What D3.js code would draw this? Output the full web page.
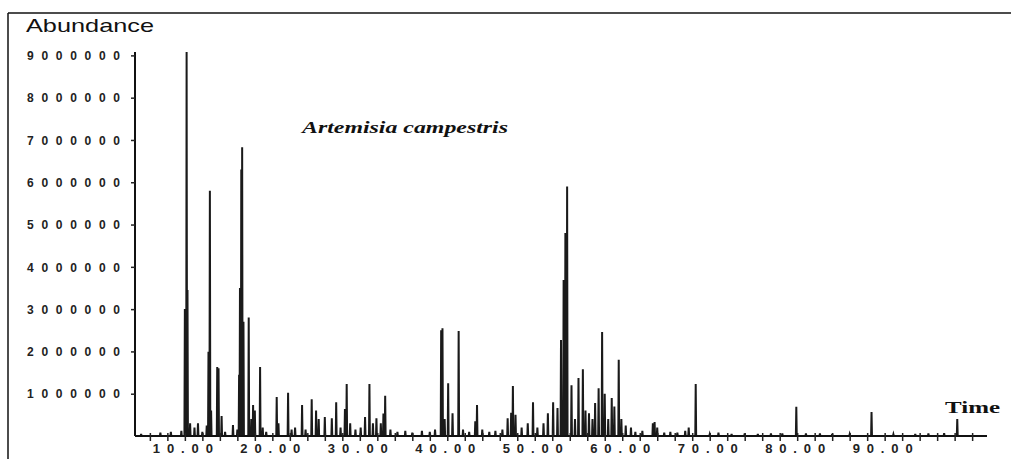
<!DOCTYPE html>
<html lang="en">
<head>
<meta charset="UTF-8">
<script src="https://d3js.org/d3.v7.min.js"></script>
<style>
    body { margin: 0; background: white; }
    svg { display: block; }
</style>
</head>
<body>
<div id="chart"></div>
<script>
    // retention times (min) and abundances
    var peakTimes = [5.0, 7.2, 8.4, 9.6, 10.0, 10.2, 10.3, 10.6, 11.1, 11.5, 12.0,
        12.5, 12.7, 12.86, 13.0, 13.7, 13.85, 14.2, 14.6, 15.5, 16.0, 16.2, 16.3, 16.45, 16.55, 16.7,
        17.3, 17.6, 17.8, 18.0, 18.6, 18.9, 19.3, 20.5, 20.7, 21.8, 22.2, 22.6, 23.4, 23.8,
        24.5, 25.0, 25.3, 26.0, 26.8, 27.3, 27.8, 28.3, 28.5, 28.9, 29.5, 30.1, 30.6, 31.1,
        31.5, 31.9, 32.4, 32.7, 32.9, 33.5, 34.3, 35.2, 36.0, 37.1, 38.0, 38.6, 39.3, 39.45,
        39.7, 40.1, 40.6, 41.3, 41.8, 42.5, 43.2, 43.4, 44.0, 44.8, 45.5, 46.3, 46.9, 47.3,
        47.5, 47.8, 48.5, 49.2, 49.8, 50.3, 51.0, 51.5, 52.1, 52.6, 53.0, 53.3, 53.5, 53.7,
        54.2, 54.6, 55.0, 55.5, 55.8, 56.2, 56.6, 56.9, 57.3, 57.7, 58.0, 58.4, 58.8, 59.1,
        59.6, 59.9, 60.4, 61.0, 61.5, 62.3, 63.5, 63.7, 64.0, 64.8, 65.5, 66.3, 67.2, 67.6,
        68.4, 70.0, 71.0, 72.5, 74.0, 75.5, 77.0, 78.3, 79.9, 81.0, 82.6, 84.0, 86.0, 88.5,
        91.0, 93.5, 95.0, 96.8, 98.3];
    var peakHeights = [50000, 80000, 100000, 120000, 3000000, 9080000, 3450000, 300000, 200000, 300000, 100000,
        250000, 1990000, 5800000, 600000, 1630000, 1600000, 470000, 100000, 260000, 150000, 1450000, 3500000, 6300000, 6830000, 2700000,
        2800000, 400000, 730000, 600000, 1630000, 200000, 100000, 920000, 300000, 1020000, 150000, 200000, 730000, 150000,
        870000, 600000, 400000, 450000, 420000, 800000, 200000, 640000, 1230000, 300000, 150000, 200000, 450000, 1230000,
        300000, 420000, 300000, 530000, 950000, 150000, 100000, 120000, 80000, 120000, 100000, 150000, 2500000, 2550000,
        400000, 1250000, 540000, 2480000, 150000, 100000, 350000, 730000, 150000, 100000, 120000, 150000, 420000, 550000,
        1180000, 500000, 200000, 300000, 800000, 200000, 300000, 540000, 800000, 660000, 2270000, 3690000, 4800000, 5900000,
        1200000, 400000, 1370000, 1580000, 600000, 540000, 400000, 780000, 1130000, 2460000, 1000000, 400000, 900000, 700000,
        1800000, 400000, 250000, 200000, 100000, 120000, 300000, 330000, 200000, 80000, 100000, 80000, 120000, 200000,
        1230000, 40000, 80000, 50000, 60000, 50000, 60000, 60000, 690000, 60000, 60000, 50000, 40000, 570000,
        40000, 50000, 60000, 70000, 400000];
    var yTickValues = [1000000, 2000000, 3000000, 4000000, 5000000, 6000000, 7000000, 8000000, 9000000];
    var xLabelValues = [10, 20, 30, 40, 50, 60, 70, 80, 90];
    var xMinorTicks = d3.range(6, 101, 2);

    var canvasWidth = 1012;
    var canvasHeight = 459;

    var svg = d3.select("#chart").append("svg")
        .attr("width", canvasWidth)
        .attr("height", canvasHeight);

    var xScale = d3.scaleLinear().domain([4.3, 101.7]).range([135, 987]);
    var yScale = d3.scaleLinear().domain([0, 9080000]).range([436, 52]);

    // frame (top and left edges only)
    svg.append("line").attr("x1", 8).attr("x2", 1011).attr("y1", 13).attr("y2", 13)
        .attr("stroke", "#111").attr("stroke-width", 1.5);
    svg.append("line").attr("x1", 8).attr("x2", 8).attr("y1", 13).attr("y2", 459)
        .attr("stroke", "#111").attr("stroke-width", 1.5);

    // chromatogram trace
    var pts = [];
    var order = d3.range(peakTimes.length).sort(function(a, b) { return peakTimes[a] - peakTimes[b]; });
    pts.push([4.3, 0]);
    order.forEach(function(i) {
        pts.push([peakTimes[i] - 0.05, 0]);
        pts.push([peakTimes[i], peakHeights[i]]);
        pts.push([peakTimes[i] + 0.05, 0]);
    });
    pts.push([101.7, 0]);

    var line = d3.line()
        .x(function(d) { return xScale(d[0]); })
        .y(function(d) { return yScale(d[1]); });

    svg.append("path")
        .datum(pts)
        .attr("d", line)
        .attr("fill", "none")
        .attr("stroke", "#1a1a1a")
        .attr("stroke-width", 2)
        .attr("stroke-linejoin", "miter");

    // y axis
    var yAxis = svg.append("g").attr("transform", "translate(135,0)")
        .call(d3.axisLeft(yScale).tickValues(yTickValues).tickSize(4).tickFormat(function(d) { return ""; }));
    yAxis.select(".domain").attr("stroke-width", 2).attr("stroke", "#111").attr("d", "M0,52V436");
    yAxis.selectAll(".tick line").attr("stroke-width", 1.5).attr("stroke", "#222");
    yAxis.selectAll(".tick").append("text")
        .attr("x", -15)
        .attr("dy", "0.35em")
        .attr("text-anchor", "end")
        .attr("fill", "#222")
        .attr("textLength", 93)
        .attr("lengthAdjust", "spacing")
        .style("font-family", "Liberation Sans, Arial, sans-serif")
        .style("font-weight", "bold")
        .style("font-size", "12px")
        .text(function(d) { return d3.format("d")(d); });

    // x axis
    var xAxis = svg.append("g").attr("transform", "translate(0,436)")
        .call(d3.axisBottom(xScale).tickValues(xMinorTicks).tickSize(5).tickFormat(""));
    xAxis.select(".domain").attr("stroke-width", 2).attr("stroke", "#111").attr("d", "M135,0H987");
    xAxis.selectAll(".tick line").attr("stroke-width", 1.5).attr("stroke", "#222").attr("y1", -3);

    svg.append("g").selectAll("text").data(xLabelValues).enter().append("text")
        .attr("x", function(d) { return xScale(d) - 2; })
        .attr("y", 453)
        .attr("text-anchor", "middle")
        .attr("fill", "#222")
        .attr("textLength", 60)
        .attr("lengthAdjust", "spacing")
        .style("font-family", "Liberation Sans, Arial, sans-serif")
        .style("font-weight", "bold")
        .style("font-size", "13px")
        .text(function(d) { return d3.format(".2f")(d); });

    // labels
    svg.append("text")
        .attr("x", 26).attr("y", 32)
        .attr("textLength", 128).attr("lengthAdjust", "spacingAndGlyphs")
        .style("font-family", "Liberation Sans, Arial, sans-serif")
        .style("font-size", "19px")
        .attr("fill", "#111")
        .text("Abundance");

    svg.append("text")
        .attr("x", 945).attr("y", 413)
        .attr("textLength", 55).attr("lengthAdjust", "spacingAndGlyphs")
        .style("font-family", "Liberation Serif, Times New Roman, serif")
        .style("font-weight", "bold")
        .style("font-size", "17px")
        .attr("fill", "#111")
        .text("Time");

    svg.append("text")
        .attr("x", 302).attr("y", 133)
        .attr("textLength", 206).attr("lengthAdjust", "spacingAndGlyphs")
        .style("font-family", "Liberation Serif, Times New Roman, serif")
        .style("font-weight", "bold")
        .style("font-style", "italic")
        .style("font-size", "16px")
        .attr("fill", "#111")
        .text("Artemisia campestris");
</script>
</body>
</html>
